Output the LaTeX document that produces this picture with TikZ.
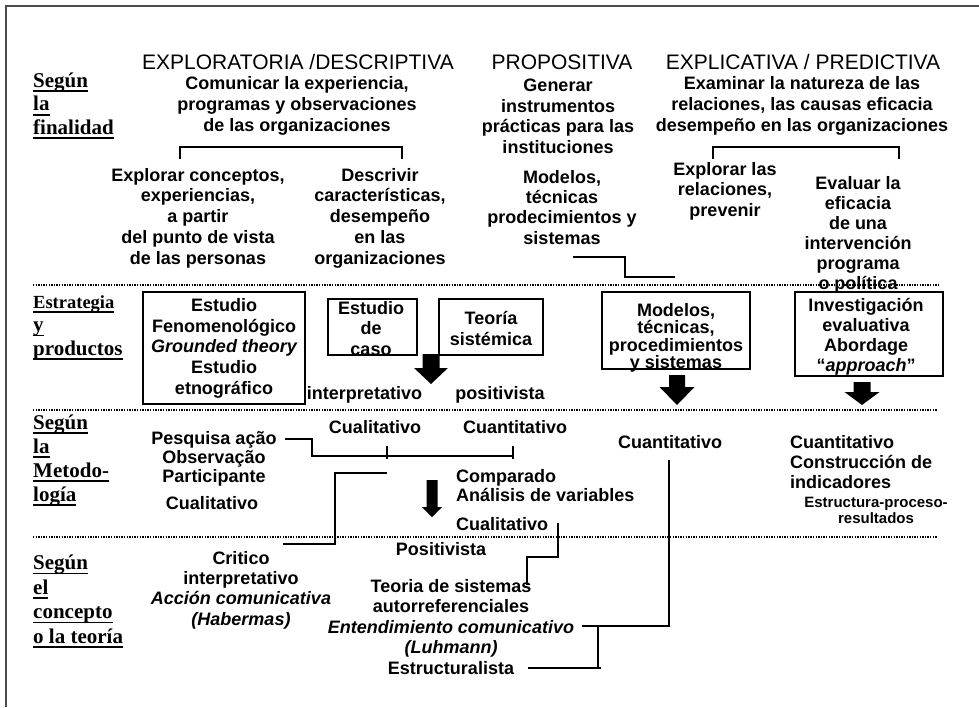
\documentclass[tikz,border=0pt]{standalone}
\usepackage{fontspec}
\setmainfont{Liberation Sans}
\newfontfamily\labserif{Liberation Serif}
\newsavebox\ulbox
\newcommand{\ulab}[1]{\sbox{\ulbox}{#1}\rlap{\rule[-4.8pt]{\wd\ulbox}{1.8pt}}\usebox{\ulbox}}
\newcommand{\bodyf}[1]{\fontsize{18}{#1}\selectfont\bfseries}
\newcommand{\dnarrow}[6]{\fill ({#1-#4},#2) -- ({#1+#4},#2) -- ({#1+#4},#3) -- ({#1+#5},#3) -- (#1,#6) -- ({#1-#5},#3) -- ({#1-#4},#3) -- cycle;}
\tikzset{
  head/.style={font=\fontsize{21}{25}\selectfont, inner sep=0pt, anchor=base},
  body/.style={font=\bodyf{#1}, inner sep=0pt, align=center, anchor=north},
  body/.default=21,
  one/.style={font=\bodyf{21}, inner sep=0pt, anchor=base},
  lab/.style={font=\labserif\fontsize{21}{#1}\selectfont\bfseries, inner sep=0pt, align=left, anchor=north west},
  sep/.style={line width=1.3pt, dash pattern=on 1.3pt off 1.3pt},
  conn/.style={line width=1.6pt},
  boxr/.style={draw, line width=1.3pt, inner sep=0pt},
}
\begin{document}
\lineskiplimit=-30pt
\lineskip=0pt
\begin{tikzpicture}[x=1pt, y=-1pt]
\useasboundingbox (0,0) rectangle (979,707);
% frame
\draw[line width=1.5pt, black!70] (6,707) -- (6,6) -- (979,6);

% left labels
\node[lab=23.5] (l1) at (33,72.7) {\ulab{Según}\\ \ulab{la}\\ \ulab{finalidad}};
\node[lab=23.5] (l2) at (33,295) {{\fontsize{18.5}{23.5}\selectfont\ulab{Estrategia}}\\ \ulab{y}\\ \ulab{productos}};
\node[lab=24] (l3) at (33,414.7) {\ulab{Según}\\ \ulab{la}\\ \ulab{Metodo-}\\ \ulab{logía}};
\node[lab=24.5] (l4) at (33,554.7) {\ulab{Según}\\ \ulab{el}\\ \ulab{concepto}\\ \ulab{o la teoría}};

% separators
\coordinate (s1a) at (33,285); \coordinate (s1b) at (940,285);
\coordinate (s2a) at (33,410); \coordinate (s2b) at (937,410);
\coordinate (s3a) at (33,537); \coordinate (s3b) at (937,537);
\draw[sep] (s1a) -- (s1b);
\draw[sep] (s2a) -- (s2b);
\draw[sep] (s3a) -- (s3b);

% headings
\node[head] (h1) at (298,69.5) {EXPLORATORIA /DESCRIPTIVA};
\node[head] (h2) at (562,69.5) {PROPOSITIVA};
\node[head] (h3) at (803,69.5) {EXPLICATIVA / PREDICTIVA};

% finalidad texts
\node[body] (tcom) at (297,76) {Comunicar la experiencia,\\ programas y observaciones\\ de las organizaciones};
\node[body=20.5] (tgen) at (558,79) {Generar\\ instrumentos\\ prácticas para las\\ instituciones};
\node[body] (texam) at (802,76) {Examinar la natureza de las\\ relaciones, las causas eficacia\\ desempeño en las organizaciones};

\coordinate (b1a) at (180,159); \coordinate (b1b) at (180,147);
\coordinate (b1c) at (402,147); \coordinate (b1d) at (402,159);
\draw[conn] (b1a) -- (b1b) -- (b1c) -- (b1d);
\coordinate (b2a) at (713,159); \coordinate (b2b) at (713,147);
\coordinate (b2c) at (899,147); \coordinate (b2d) at (899,159);
\draw[conn] (b2a) -- (b2b) -- (b2c) -- (b2d);

\node[body=20.75] (texpc) at (198,168) {Explorar conceptos,\\ experiencias,\\ a partir\\ del punto de vista\\ de las personas};
\node[body=20.75] (tdesc) at (380,168) {Descrivir\\ características,\\ desempeño\\ en las\\ organizaciones};
\node[body=20.3] (tmod1) at (562,170) {Modelos,\\ técnicas\\ prodecimientos y\\ sistemas};
\node[body=20.5] (texpr) at (725,162) {Explorar las\\ relaciones,\\ prevenir};
\node[body=20] (teval) at (858,176) {Evaluar la\\ eficacia\\ de una\\ intervención\\ programa\\ o política};

\coordinate (st1a) at (573,257); \coordinate (st1b) at (625,257);
\coordinate (st1c) at (625,277); \coordinate (st1d) at (675,277);
\draw[conn] (st1a) -- (st1b) -- (st1c) -- (st1d);

% strategy row
\node[boxr, minimum width=162pt, minimum height=112pt] (best) at (224,348) {};
\node[body=20.75] (test) at (224,298) {Estudio\\ Fenomenológico\\ \itshape Grounded theory\\ Estudio\\ etnográfico};
\node[boxr, minimum width=89pt, minimum height=56pt] (bcaso) at (372.5,327) {};
\node[body=20.5] (tcaso) at (371,301) {Estudio\\ de\\ caso};
\node[boxr, minimum width=104pt, minimum height=56pt] (bteo) at (491,327) {};
\node[body] (tteo) at (491,311) {Teoría\\ sistémica};
\node[boxr, minimum width=148pt, minimum height=77pt] (bmod) at (676,330.5) {};
\node[body=17.5] (tmod) at (676,303) {Modelos,\\ técnicas,\\ procedimientos\\ y sistemas};
\node[boxr, minimum width=148pt, minimum height=84pt] (binv) at (869,334) {};
\node[body=20] (tinv) at (866,298) {Investigación\\ evaluativa\\ Abordage\\ “\textit{approach}”};

\node[one] (tinterp) at (364.5,399.5) {interpretativo};
\node[one] (tposit) at (500,399.5) {positivista};

\dnarrow{431}{354}{368}{8.5}{17}{384}
\dnarrow{677}{375}{387}{8}{17.5}{405}
\dnarrow{862}{382}{392}{8.5}{17.5}{405}

% metodologia row
\node[body=19] (tpesq) at (214,431) {Pesquisa ação\\ Observação\\ Participante};
\node[one] (tcuall) at (212,509.5) {Cualitativo};
\node[one] (tcualm) at (375,433.5) {Cualitativo};
\node[one] (tcuanm) at (515,433.5) {Cuantitativo};
\node[body=19, align=left, anchor=north west] (tcomp) at (456,469) {Comparado\\ Análisis de variables};
\node[one, anchor=base west] (tcualr) at (456,530.5) {Cualitativo};
\node[one] (tcuanc) at (670,448.5) {Cuantitativo};
\node[body=20, align=left, anchor=north west] (tcuanr) at (790,435) {Cuantitativo\\ Construcción de\\ indicadores};
\node[font=\fontsize{15}{16.5}\selectfont\bfseries, inner sep=0pt, align=center, anchor=north] (testr) at (876,496.5) {Estructura-proceso-\\ resultados};

\coordinate (m1a) at (285,439); \coordinate (m1b) at (312,439);
\coordinate (m1c) at (312,456); \coordinate (m1d) at (513,456);
\draw[conn] (m1a) -- (m1b) -- (m1c) -- (m1d);
\coordinate (tk1a) at (387,446); \coordinate (tk1b) at (387,459);
\coordinate (tk2a) at (513,446); \coordinate (tk2b) at (513,459);
\draw[conn] (tk1a) -- (tk1b);
\draw[conn] (tk2a) -- (tk2b);

\coordinate (st2a) at (387,473); \coordinate (st2b) at (335,473);
\coordinate (st2c) at (335,544); \coordinate (st2d) at (283,544);
\draw[conn] (st2a) -- (st2b) -- (st2c) -- (st2d);

\dnarrow{432}{480}{507}{5.5}{10}{517}

\coordinate (st3a) at (558,523); \coordinate (st3b) at (558,557);
\coordinate (st3c) at (527,557); \coordinate (st3d) at (527,585);
\draw[conn] (st3a) -- (st3b) -- (st3c) -- (st3d);

% concept row
\node[body=20.3] (tcrit) at (241,551) {Critico\\ interpretativo\\ \itshape Acción comunicativa\\ \itshape (Habermas)};
\node[one] (tposv) at (441,555.5) {Positivista};
\node[body=20.5] (tteor) at (451,579) {Teoria de sistemas\\ autorreferenciales\\ \itshape Entendimiento comunicativo\\ \itshape (Luhmann)\\ Estructuralista};

\coordinate (lg1) at (669,460); \coordinate (lg2) at (669,626);
\coordinate (lg3) at (582,626);
\draw[conn] (lg1) -- (lg2) -- (lg3);
\coordinate (lg4) at (598,626); \coordinate (lg5) at (598,668);
\draw[conn] (lg4) -- (lg5);
\coordinate (lg6) at (528,668); \coordinate (lg7) at (601,668);
\draw[conn] (lg6) -- (lg7);
\end{tikzpicture}
\end{document}
